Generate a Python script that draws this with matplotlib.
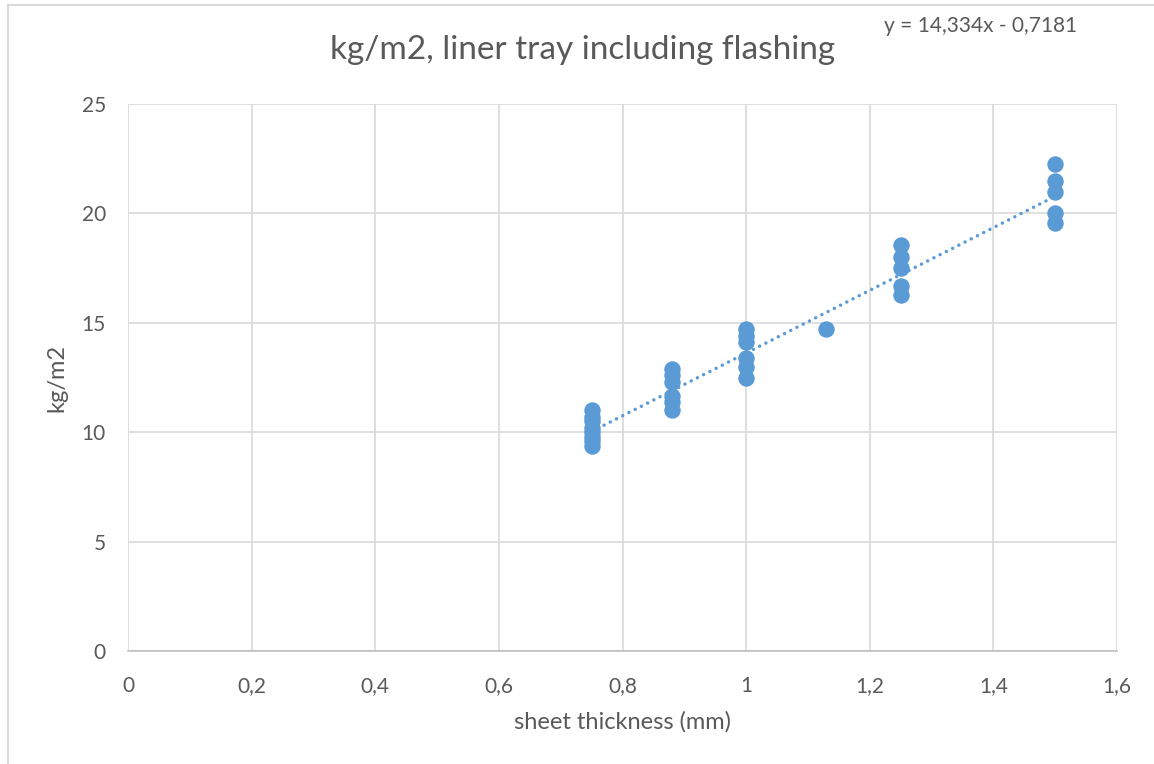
import numpy as np
import matplotlib.pyplot as plt
from matplotlib.lines import Line2D

plt.rcParams['font.family'] = ['Lato', 'DejaVu Sans']

# sheet thickness (mm) and measured weight (kg/m2)
thickness = [0.75] * 8 + [0.88] * 6 + [1.0] * 6 + [1.13] + [1.25] * 5 + [1.5] * 5
weight = [11.0, 10.7, 10.5, 10.2, 10.0, 9.8, 9.6, 9.35,
          12.9, 12.6, 12.3, 11.65, 11.4, 11.0,
          14.7, 14.4, 14.1, 13.4, 13.0, 12.5,
          14.7,
          18.55, 18.0, 17.5, 16.7, 16.25,
          22.25, 21.5, 20.98, 20.0, 19.55]

# trendline as given by the chart
slope = 14.334
intercept = -0.7181
trend_x = [0.75, 1.5]

x_ticks = [0, 0.2, 0.4, 0.6, 0.8, 1.0, 1.2, 1.4, 1.6]
x_labels = ['0', '0,2', '0,4', '0,6', '0,8', '1', '1,2', '1,4', '1,6']
y_ticks = [0, 5, 10, 15, 20, 25]

blue = '#5b9bd5'
grey_text = '#595959'
grid = '#d9d9d9'

fig = plt.figure(figsize=(11.54, 7.64), dpi=100)
ax = fig.add_axes([128 / 1154, 1 - 651 / 764, (1117 - 128) / 1154, (651 - 104) / 764])

ax.scatter(thickness, weight, s=140, color=blue, zorder=3, linewidths=0)
tx = np.array(trend_x)
ax.plot(tx, slope * tx + intercept, color=blue, lw=2.5, linestyle=(0, (0.01, 2.0)),
        dash_capstyle='round', solid_capstyle='round', zorder=4)

ax.set_xlim(0, 1.6)
ax.set_ylim(0, 25)
ax.set_xticks(x_ticks)
ax.set_xticklabels(x_labels)
ax.set_yticks(y_ticks)
ax.grid(True, color=grid, lw=1.2, zorder=0)
ax.tick_params(length=0, labelsize=15, colors=grey_text)
ax.tick_params(axis='x', pad=18)
ax.tick_params(axis='y', pad=16)
for side in ['top', 'right', 'left']:
    ax.spines[side].set_visible(False)
ax.spines['bottom'].set_color('#bfbfbf')
ax.spines['bottom'].set_linewidth(1.2)

ax.set_xlabel('sheet thickness (mm)', fontsize=17, color=grey_text, labelpad=11)
ax.set_ylabel('kg/m2', fontsize=17, color=grey_text, labelpad=10)
fig.text(583 / 1154, 1 - 50 / 764, 'kg/m2, liner tray including flashing',
         fontsize=24, color=grey_text, ha='center', va='center')
fig.text(981 / 1154, 1 - 26 / 764, 'y = 14,334x - 0,7181',
         fontsize=15, color=grey_text, ha='center', va='center')

# outer chart frame
fig.add_artist(Line2D([8 / 1154, 8 / 1154], [0, 1 - 5 / 764], color='#d9d9d9', lw=1.5))
fig.add_artist(Line2D([8 / 1154, 1], [1 - 5 / 764, 1 - 5 / 764], color='#d9d9d9', lw=1.5))

fig.savefig('out.png', dpi=100)
